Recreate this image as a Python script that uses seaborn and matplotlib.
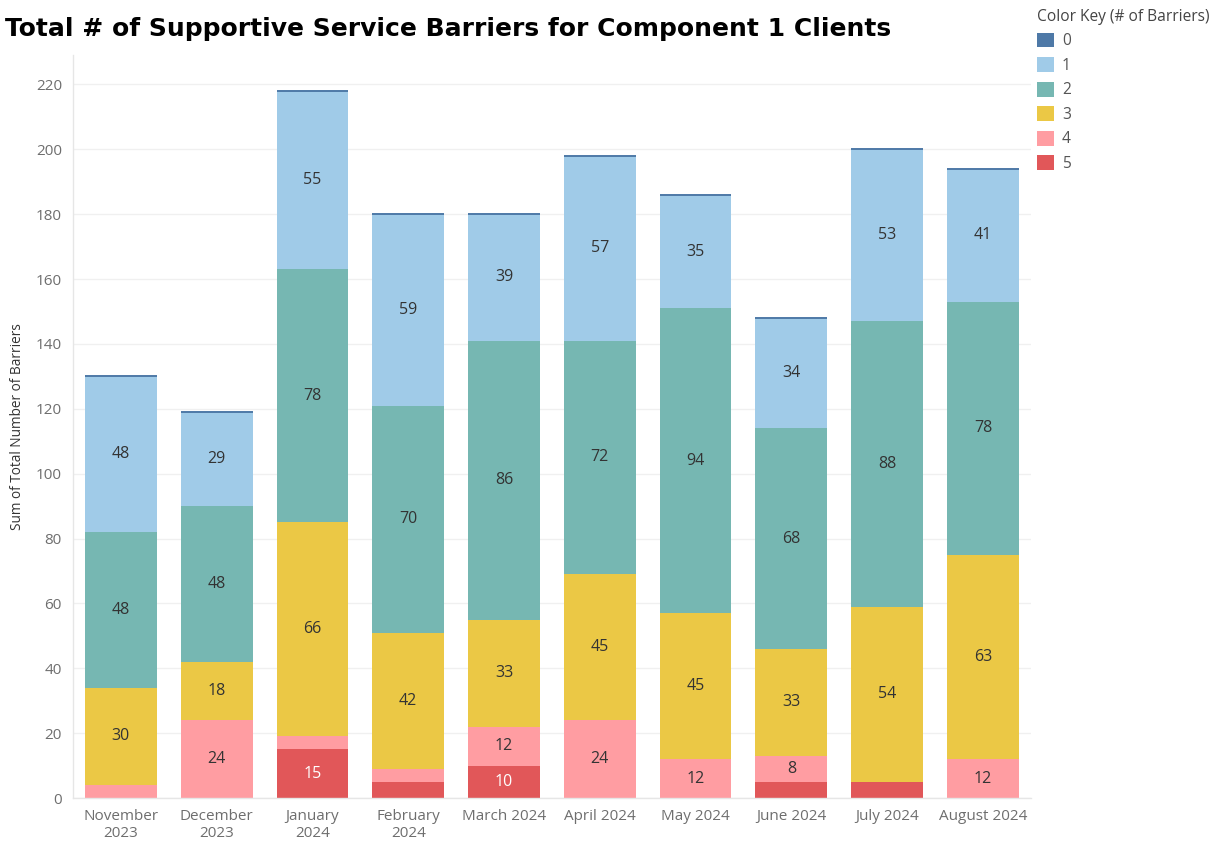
import numpy as np
import pandas as pd
import matplotlib
matplotlib.use("Agg")
import matplotlib.pyplot as plt
from matplotlib.patches import Patch
import seaborn as sns

# ---- data ----
months = ["November\n2023", "December\n2023", "January\n2024", "February\n2024",
          "March 2024", "April 2024", "May 2024", "June 2024", "July 2024", "August 2024"]
barriers0 = [0, 0, 0, 0, 0, 0, 0, 0, 0, 0]
barriers1 = [48, 29, 55, 59, 39, 57, 35, 34, 53, 41]
barriers2 = [48, 48, 78, 70, 86, 72, 94, 68, 88, 78]
barriers3 = [30, 18, 66, 42, 33, 45, 45, 33, 54, 63]
barriers4 = [4, 24, 4, 4, 12, 24, 12, 8, 0, 12]
barriers5 = [0, 0, 15, 5, 10, 0, 0, 5, 5, 0]
levels = ["0", "1", "2", "3", "4", "5"]
yticks = list(range(0, 221, 20))

colors = {"0": "#4e79a7", "1": "#a0cbe8", "2": "#76b7b2",
          "3": "#ebc845", "4": "#ff9da2", "5": "#e15759"}

sns.set_theme(style="white")
plt.rcParams["font.family"] = ["Open Sans", "DejaVu Sans"]

fig = plt.figure(figsize=(12.17, 8.44), dpi=100)
ax = fig.add_axes([0.06, 0.0545, 0.787, 0.880])

# stacking order from bottom: 5, 4, 3, 2, 1
stack = [("5", barriers5), ("4", barriers4), ("3", barriers3), ("2", barriers2), ("1", barriers1)]
cum = {}
running = np.zeros(len(months))
bottoms = {}
for lvl, vals in stack:
    bottoms[lvl] = running.copy()
    running = running + np.array(vals)
    cum[lvl] = running.copy()
totals = running

# draw cumulative bars from tallest to shortest (overlap method)
for lvl, vals in reversed(stack):
    df = pd.DataFrame({"month": months, "value": cum[lvl]})
    sns.barplot(data=df, x="month", y="value", color=colors[lvl], saturation=1,
                width=0.75, linewidth=0, edgecolor="none", ax=ax, errorbar=None)

# zero-barrier segment: zero-height bar on top of each stack
xs = np.arange(len(months))
ax.bar(xs, np.array(barriers0), bottom=totals, width=0.75, color=colors["0"],
       edgecolor=colors["0"], linewidth=1.4, zorder=3)

# labels
for lvl, vals in stack:
    for i, v in enumerate(vals):
        if v >= 8:
            yc = bottoms[lvl][i] + v / 2
            ax.text(i, yc, str(v), ha="center", va="center", fontsize=11.5,
                    color="white" if lvl == "5" else "#333333", zorder=4)

ax.set_xlim(-0.5, len(months) - 0.5)
ax.set_ylim(0, 229)
ax.set_yticks(yticks)
ax.set_yticklabels([str(t) for t in yticks])
ax.tick_params(axis="both", length=0, labelsize=11, labelcolor="#6e6e6e")
ax.tick_params(axis="x", pad=8)
ax.tick_params(axis="y", pad=8)
ax.yaxis.grid(True, color="#f0f0f0", linewidth=1)
ax.set_axisbelow(True)
ax.set_xlabel("")
ax.set_ylabel("Sum of Total Number of Barriers", fontsize=9.8, color="#333333", labelpad=8)
for s in ["top", "right"]:
    ax.spines[s].set_visible(False)
for s in ["left", "bottom"]:
    ax.spines[s].set_color("#e6e6e6")
    ax.spines[s].set_linewidth(1)

fig.text(0.004, 0.966, "Total # of Supportive Service Barriers for Component 1 Clients",
         fontsize=18, fontweight="bold", family="DejaVu Sans", color="black",
         ha="left", va="center")

handles = [Patch(facecolor=colors[l], edgecolor="none", label=l) for l in levels]
leg = fig.legend(handles=handles, loc="upper left", bbox_to_anchor=(0.847, 0.997),
                 title="Color Key (# of Barriers)", frameon=False, fontsize=11.2,
                 title_fontsize=11.2, handlelength=1.1, handleheight=1.1,
                 handletextpad=0.5, labelspacing=0.5, borderaxespad=0)
leg._legend_box.align = "left"
for t in leg.get_texts():
    t.set_color("#555555")
leg.get_title().set_color("#444444")

fig.savefig("out.png", dpi=100)
